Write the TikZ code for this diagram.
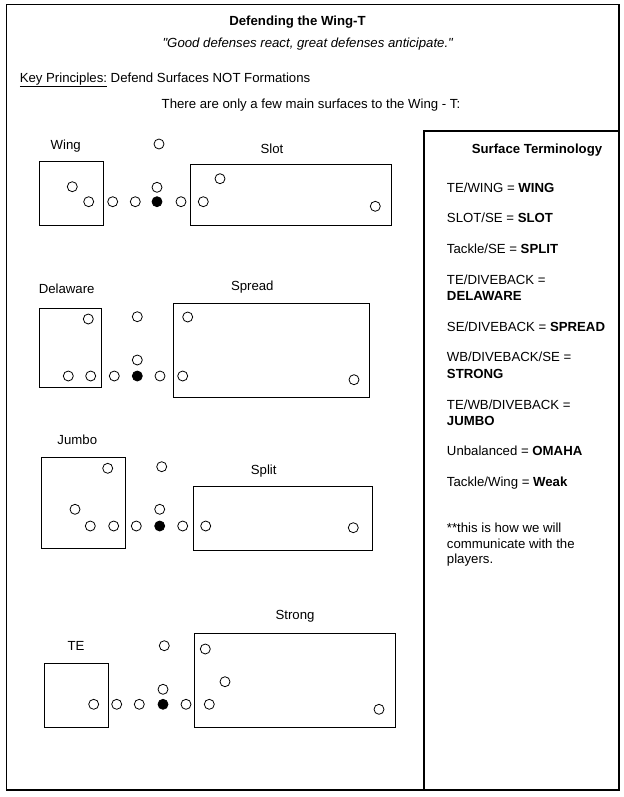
\documentclass[tikz,border=0pt]{standalone}
\usepackage{fontspec}
\setmainfont{Liberation Sans}[Ligatures=TeXOff]
\begin{document}
\begin{tikzpicture}[x=0.75pt,y=-0.75pt,
  every node/.style={font=\fontsize{9.9}{12}\selectfont, inner sep=0pt},
  player/.style={draw, circle, minimum size=7.5pt, line width=0.6pt},
  ball/.style={player, fill=black},
  lbl/.style={anchor=base},
  term/.style={anchor=base west}]
\useasboundingbox (0,0) rectangle (624,797);
\draw[line width=0.8pt] (6.5,4.5) rectangle (619,790);
\draw[line width=0.8pt] (619,131) -- (424,131) -- (424,790);
% heading
\node[lbl] (title) at (297.5,25.5) {\textbf{Defending the Wing-T}};
\node[lbl] (quote) at (308,47) {\textit{"Good defenses react, great defenses anticipate."}};
\node[term] (keyp) at (19.5,82) {\underline{Key Principles:} Defend Surfaces NOT Formations};
\node[lbl] (only) at (311,108) {There are only a few main surfaces to the Wing - T:};
% wing / slot
\draw[line width=0.75pt] (39.3,161.7) rectangle (103.3,225);
\draw[line width=0.75pt] (190.3,164.3) rectangle (391,225);
\node[lbl] (lwing) at (65.7,149) {Wing};
\node[lbl] (lslot) at (272,153) {Slot};
\node[player] (w1) at (159,144) {};
\node[player] (w2) at (72.3,186.7) {};
\node[player] (w3) at (88.7,201.7) {};
\node[player] (w4) at (112.7,201.7) {};
\node[player] (w5) at (135.3,201.7) {};
\node[ball] (w6) at (157,201.7) {};
\node[player] (w7) at (181,201.7) {};
\node[player] (w8) at (203.3,201.7) {};
\node[player] (w9) at (157,187.3) {};
\node[player] (w10) at (220,178.7) {};
\node[player] (w11) at (375.3,206.3) {};
% delaware / spread
\draw[line width=0.75pt] (39.3,308.3) rectangle (101.7,387.3);
\draw[line width=0.75pt] (173.3,303.3) rectangle (369.3,397.3);
\node[lbl] (ldel) at (66.7,293) {Delaware};
\node[lbl] (lspread) at (252.3,290.5) {Spread};
\node[player] (d1) at (88.3,319) {};
\node[player] (d2) at (68.3,376) {};
\node[player] (d3) at (90.7,376) {};
\node[player] (d4) at (114.3,376) {};
\node[ball] (d5) at (137.3,376) {};
\node[player] (d6) at (160,376) {};
\node[player] (d7) at (182.7,376) {};
\node[player] (d8) at (137.3,360) {};
\node[player] (d9) at (137.3,316.7) {};
\node[player] (d10) at (187.7,317) {};
\node[player] (d11) at (354,379.7) {};
% jumbo / split
\draw[line width=0.75pt] (41.3,457.3) rectangle (125.7,548.3);
\draw[line width=0.75pt] (193.3,486.3) rectangle (372.3,550);
\node[lbl] (ljumbo) at (77.3,444) {Jumbo};
\node[lbl] (lsplit) at (263.7,474) {Split};
\node[player] (j1) at (107.7,468.3) {};
\node[player] (j2) at (75,509.3) {};
\node[player] (j3) at (90.3,526) {};
\node[player] (j4) at (113.7,526) {};
\node[player] (j5) at (136.3,526) {};
\node[ball] (j6) at (159.7,526) {};
\node[player] (j7) at (182.7,526) {};
\node[player] (j8) at (205.7,526) {};
\node[player] (j9) at (159.7,509.3) {};
\node[player] (j10) at (161.7,466.7) {};
\node[player] (j11) at (353.3,527.7) {};
% te / strong
\draw[line width=0.75pt] (44.3,663.3) rectangle (108.3,727.3);
\draw[line width=0.75pt] (194.3,633.3) rectangle (395.7,727.3);
\node[lbl] (lte) at (76,650) {TE};
\node[lbl] (lstrong) at (295,619.5) {Strong};
\node[player] (t1) at (93.7,704.3) {};
\node[player] (t2) at (116.7,704.3) {};
\node[player] (t3) at (139.3,704.3) {};
\node[ball] (t4) at (163,704.3) {};
\node[player] (t5) at (186,704.3) {};
\node[player] (t6) at (209.3,704.3) {};
\node[player] (t7) at (163,689.3) {};
\node[player] (t8) at (164.3,645.7) {};
\node[player] (t9) at (205.3,649) {};
\node[player] (t10) at (225,681.7) {};
\node[player] (t11) at (379,709.3) {};
% surface terminology
\node[lbl] (surf) at (537,153.5) {\textbf{Surface Terminology}};
\node[term] (s1) at (446.7,192) {TE/WING = \textbf{WING}};
\node[term] (s2) at (446.7,222) {SLOT/SE = \textbf{SLOT}};
\node[term] (s3) at (446.7,253) {Tackle/SE = \textbf{SPLIT}};
\node[term] (s4) at (446.7,284.5) {TE/DIVEBACK =};
\node[term] (s4b) at (446.7,300.5) {\textbf{DELAWARE}};
\node[term] (s5) at (446.7,331) {SE/DIVEBACK = \textbf{SPREAD}};
\node[term] (s6) at (446.7,361.5) {WB/DIVEBACK/SE =};
\node[term] (s6b) at (446.7,378) {\textbf{STRONG}};
\node[term] (s7) at (446.7,409) {TE/WB/DIVEBACK =};
\node[term] (s7b) at (446.7,425.5) {\textbf{JUMBO}};
\node[term] (s8) at (446.7,455.5) {Unbalanced = \textbf{OMAHA}};
\node[term] (s9) at (446.7,486) {Tackle/Wing = \textbf{Weak}};
\node[term] (n1) at (446.7,532.5) {**this is how we will};
\node[term] (n2) at (446.7,548) {communicate with the};
\node[term] (n3) at (446.7,563.5) {players.};
\end{tikzpicture}
\end{document}
